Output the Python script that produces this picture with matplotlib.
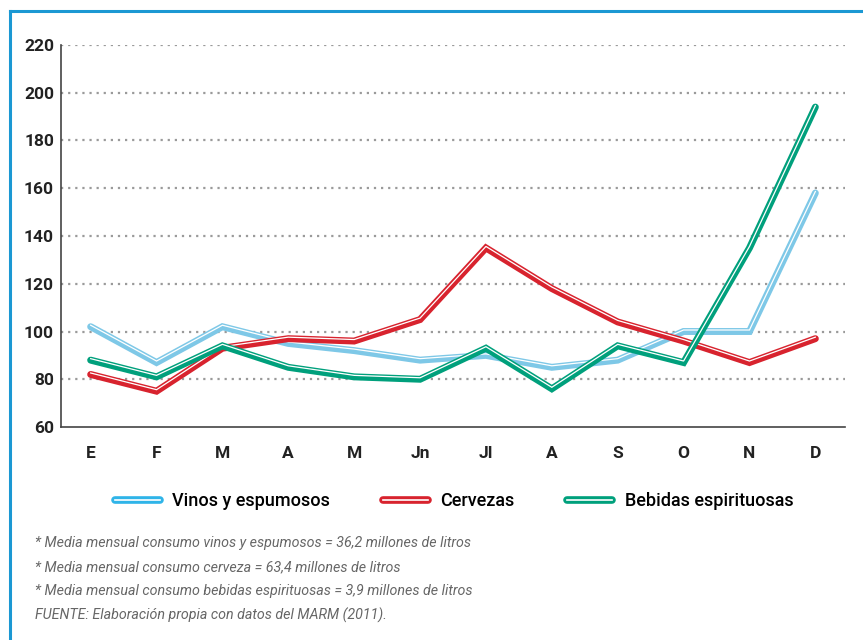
import matplotlib.pyplot as plt
from matplotlib.lines import Line2D
from matplotlib.legend_handler import HandlerTuple
import matplotlib.transforms as mtransforms

plt.rcParams['font.family'] = ['Roboto', 'DejaVu Sans']

meses = ['E', 'F', 'M', 'A', 'M', 'Jn', 'Jl', 'A', 'S', 'O', 'N', 'D']
vinos = [102, 87, 102, 95, 92, 88, 90, 85, 88, 100, 100, 158]
cervezas = [82, 75, 93, 97, 96, 105, 135, 118, 104, 96, 87, 97]
bebidas = [88, 81, 94, 85, 81, 80, 93, 76, 94, 87, 135, 194]

series = [
    ('Vinos y espumosos', vinos, '#7ec8e7', '#2fb4e8'),
    ('Cervezas', cervezas, '#d8232e', '#d8232e'),
    ('Bebidas espirituosas', bebidas, '#00a07c', '#00a07c'),
]

notas = [
    '* Media mensual consumo vinos y espumosos = 36,2 millones de litros',
    '* Media mensual consumo cerveza = 63,4 millones de litros',
    '* Media mensual consumo bebidas espirituosas = 3,9 millones de litros',
    'FUENTE: Elaboración propia con datos del MARM (2011).',
]

fig = plt.figure(figsize=(8.63, 6.4), dpi=100)
ax = fig.add_axes([61/863, 1-427/640, (845-61)/863, (427-45)/640])

x = list(range(len(meses)))
# white highlight slightly above the centre of each line
shift = mtransforms.offset_copy(ax.transData, fig=fig, x=0, y=1.5, units='dots')
handles = []
for name, vals, col, legcol in series:
    ax.plot(x, vals, color=col, lw=5.0, solid_capstyle='round', solid_joinstyle='miter', zorder=3)
    ax.plot(x, vals, color='white', lw=0.9, transform=shift, solid_joinstyle='miter', zorder=3)
    h1 = Line2D([], [], color=legcol, lw=5.5, solid_capstyle='round')
    h2 = Line2D([], [], color='white', lw=1.2)
    handles.append((h1, h2))

ax.set_xlim(-0.45, 11.45)
ax.set_ylim(60, 220)
ax.set_yticks(range(60, 221, 20))
ax.set_xticks(x)
ax.set_xticklabels(meses)
for v in range(80, 221, 20):
    ax.axhline(v, color='#9a9a9a', lw=1.6, ls=(0, (1, 2.2)), zorder=1)

for s in ['top', 'right']:
    ax.spines[s].set_visible(False)
ax.spines['left'].set_color('#444444')
ax.spines['bottom'].set_color('#444444')
ax.spines['left'].set_linewidth(1.2)
ax.spines['bottom'].set_linewidth(1.2)
ax.tick_params(length=0, labelsize=12.5, colors='#222222')
ax.tick_params(axis='y', pad=5)
ax.tick_params(axis='x', pad=14)
for lab in ax.get_xticklabels() + ax.get_yticklabels():
    lab.set_fontweight('semibold')

fig.legend(handles, [s[0] for s in series], handler_map={tuple: HandlerTuple(ndivide=1, pad=0)},
           loc='center', bbox_to_anchor=(454/863, 1-501/640), ncol=3, frameon=False,
           prop={'size': 13, 'weight': 'medium'}, handlelength=2.5, handletextpad=0.7,
           columnspacing=2.9)

for i, t in enumerate(notas):
    fig.text(35/863, 1-(543+24*i)/640, t, fontsize=10.3, style='italic', color='#666666',
             va='center', ha='left')

# blue frame (top and left)
fig.add_artist(Line2D([10/863, 1], [1-11/640, 1-11/640], color='#1b98d3', lw=2.2))
fig.add_artist(Line2D([10/863, 10/863], [0, 1-11/640], color='#1b98d3', lw=2.2))

fig.savefig('out.png', dpi=100)
